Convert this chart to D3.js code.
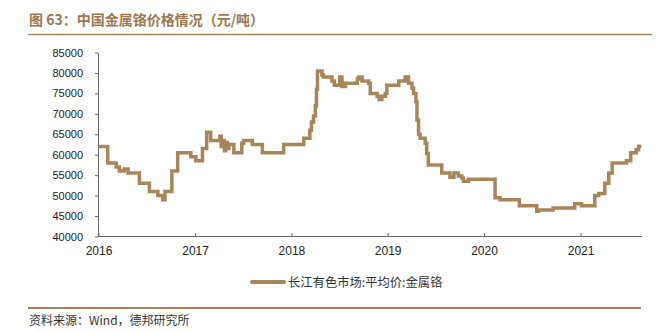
<!DOCTYPE html>
<html><head><meta charset="utf-8">
<script src="https://cdn.jsdelivr.net/npm/d3@7"></script>
<style>
html,body{margin:0;padding:0;background:#fff;}
svg{display:block;}
</style></head>
<body>
<script>
// ---- data ----
const titleText = "图 63：中国金属铬价格情况（元/吨）";
const sourceText = "资料来源：Wind，德邦研究所";
const seriesName = "长江有色市场:平均价:金属铬";
const dates = [
 "2016-01-01","2016-02-05","2016-03-08","2016-03-20","2016-04-07","2016-04-22","2016-06-04","2016-07-12",
 "2016-08-13","2016-08-31","2016-09-09","2016-10-05","2016-10-27","2016-12-16","2017-01-04","2017-01-29",
 "2017-02-14","2017-03-01","2017-04-05","2017-04-10","2017-04-16","2017-04-22","2017-04-27","2017-05-03",
 "2017-05-09","2017-05-28","2017-06-27","2017-07-04","2017-08-06","2017-09-13","2017-12-03","2018-02-17",
 "2018-03-12","2018-03-18","2018-03-26","2018-04-02","2018-04-06","2018-04-10","2018-04-27","2018-05-02",
 "2018-06-04","2018-06-13","2018-07-03","2018-07-12","2018-07-25","2018-09-08","2018-09-14","2018-09-26",
 "2018-10-21","2018-10-27","2018-11-22","2018-11-30","2018-12-10","2018-12-23","2018-12-29","2019-02-12",
 "2019-03-08","2019-03-21","2019-04-03","2019-04-09","2019-04-18","2019-04-22","2019-04-28","2019-05-04",
 "2019-05-23","2019-05-29","2019-06-04","2019-07-25","2019-08-25","2019-09-09","2019-09-26","2019-10-09",
 "2019-10-15","2019-11-03","2020-02-12","2020-03-02","2020-05-14","2020-07-19","2020-07-25","2020-09-19",
 "2020-12-10","2021-01-05","2021-02-24","2021-03-11","2021-04-03","2021-04-18","2021-05-01","2021-06-24",
 "2021-07-10","2021-07-31","2021-08-09","2021-08-13"
];
const prices = [
 62000,58000,57000,56000,56500,55500,53000,51000,
 50000,49000,51000,56000,60500,59500,58500,61500,
 65500,63500,64500,62000,63500,61000,63000,61500,
 62500,60500,62800,63500,62500,60500,62500,64000,
 66000,68000,69500,72000,76000,80500,79500,79000,
 78000,77000,79000,76700,77500,78500,79000,78000,
 77500,75000,74300,73500,74300,75000,77000,78000,
 79000,77500,76300,75000,73000,68500,65000,64000,
 62800,60300,57500,55500,54500,55500,54800,54300,
 53500,54000,49500,49000,47500,46200,46500,47000,
 48000,47500,50000,50500,53000,55500,58000,58500,
 60500,61200,62000,62500
];
const yTicks = [40000,45000,50000,55000,60000,65000,70000,75000,80000,85000];
const xTickYears = ["2016","2017","2018","2019","2020","2021"];
const xDomain = ["2016-01-01","2021-08-20"];

// ---- chart ----
const W = 663, H = 333;
const parse = d3.timeParse("%Y-%m-%d");
const data = dates.map((d,i)=>({date:parse(d), v:prices[i]}));

const svg = d3.select("body").append("svg").attr("width",W).attr("height",H)
  .style("font-family","'Liberation Sans', Arial, sans-serif");

const brown = "#a9865a";
const titleColor = "#9c7851";
const ruleColor = "#a6825e";

// title
svg.append("text").attr("x",29).attr("y",25)
  .attr("font-family","'Noto Sans CJK SC', sans-serif").attr("font-weight","bold")
  .attr("font-size",14).attr("fill",titleColor).text(titleText);
svg.append("line").attr("x1",28).attr("x2",652).attr("y1",34.5).attr("y2",34.5)
  .attr("stroke",ruleColor).attr("stroke-width",1.5);

const x = d3.scaleTime().domain(xDomain.map(parse)).range([98.5,641.5]);
const y = d3.scaleLinear().domain([40000,85000]).range([236.5,52.5]);

// y axis
const yAxis = d3.axisLeft(y).tickValues(yTicks).tickFormat(d3.format("d"))
  .tickSize(3).tickSizeOuter(0).tickPadding(12);
const gy = svg.append("g").attr("transform","translate(98,0)").call(yAxis);
gy.select(".domain").attr("stroke","#666");
gy.selectAll(".tick line").attr("stroke","#666");
gy.selectAll(".tick text").attr("font-size",11).attr("fill","#222")
  .attr("font-family","'Liberation Sans', Arial, sans-serif");

// x axis
const xAxis = d3.axisBottom(x).tickValues(xTickYears.map(s=>parse(s+"-01-01")))
  .tickFormat(d3.timeFormat("%Y")).tickSize(-3).tickSizeOuter(0).tickPadding(10);
const gx = svg.append("g").attr("transform","translate(0,236)").call(xAxis);
gx.select(".domain").attr("stroke","#666");
gx.selectAll(".tick line").attr("stroke","#666");
gx.selectAll(".tick text").attr("font-size",12).attr("fill","#222")
  .attr("font-family","'Liberation Sans', Arial, sans-serif");

// line
const line = d3.line().x(d=>x(d.date)).y(d=>y(d.v)).curve(d3.curveStepAfter);
svg.append("path").datum(data).attr("d",line).attr("fill","none")
  .attr("stroke",brown).attr("stroke-width",3.5).attr("stroke-linejoin","miter");

// legend
svg.append("line").attr("x1",252).attr("x2",284).attr("y1",282).attr("y2",282)
  .attr("stroke",brown).attr("stroke-width",4).attr("stroke-linecap","round");
svg.append("text").attr("x",288).attr("y",286.5)
  .attr("font-family","'Noto Sans CJK SC', sans-serif").attr("font-size",12.3)
  .attr("fill","#333").text(seriesName);

// footer
svg.append("line").attr("x1",28).attr("x2",641).attr("y1",308).attr("y2",308)
  .attr("stroke",ruleColor).attr("stroke-width",2);
svg.append("text").attr("x",29).attr("y",325)
  .attr("font-family","'Noto Sans CJK SC', sans-serif").attr("font-size",12)
  .attr("fill","#333").text(sourceText);
</script>
</body></html>
